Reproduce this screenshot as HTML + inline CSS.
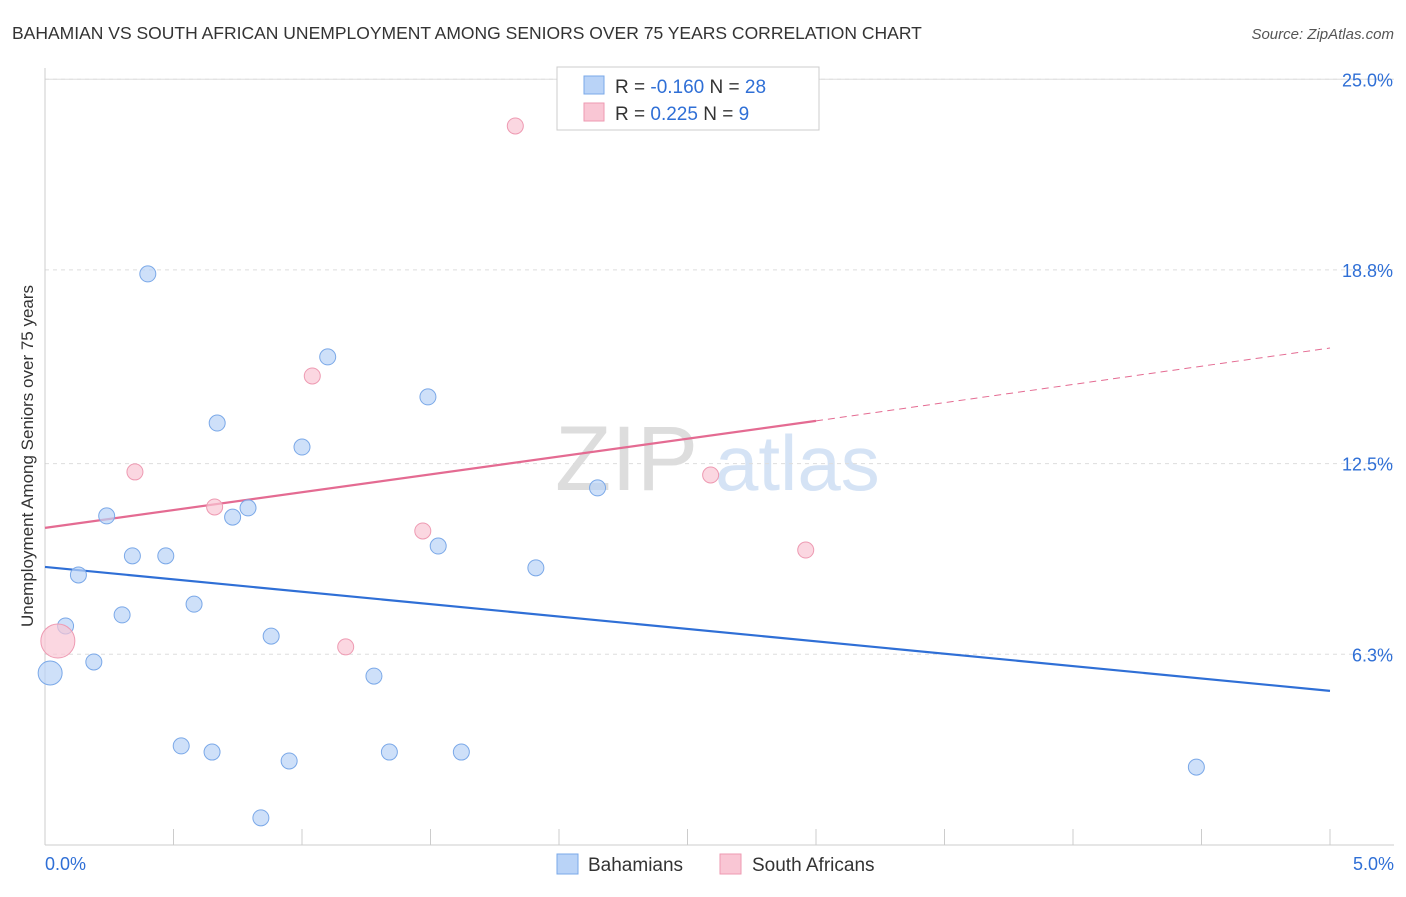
<!DOCTYPE html>
<html><head><meta charset="utf-8"><style>
body{margin:0;background:#fff;font-family:"Liberation Sans",sans-serif;}
svg text{font-family:"Liberation Sans",sans-serif;}
</style></head><body>
<svg id="chart" width="1406" height="892" viewBox="0 0 1406 892">
<text x="12" y="39" font-size="17.5" fill="#333">BAHAMIAN VS SOUTH AFRICAN UNEMPLOYMENT AMONG SENIORS OVER 75 YEARS CORRELATION CHART</text>
<text x="1394" y="39" font-size="15" fill="#555" font-style="italic" text-anchor="end">Source: ZipAtlas.com</text>
<text transform="translate(33,456) rotate(-90)" font-size="17" fill="#333" text-anchor="middle">Unemployment Among Seniors over 75 years</text>
<g>
<text x="555" y="490" font-size="92" fill="#ddd" font-family="Liberation Serif">ZIP</text>
<text x="715" y="490" font-size="78" fill="#d5e3f5">atlas</text>
</g>
<g id="grid"></g><g id="axes"></g><g id="lines"></g><g id="pts"></g>
<g>
<rect x="557" y="67" width="262" height="63" fill="#fff" stroke="#ccc"/>
<rect x="584" y="76" width="20" height="18" fill="#b9d3f7" stroke="#7aa8e8"/>
<rect x="584" y="103" width="20" height="18" fill="#f9c6d4" stroke="#ee9ab2"/>
<text x="615" y="93" font-size="19" fill="#333">R = <tspan fill="#2f6fd6">-0.160</tspan>   N = <tspan fill="#2f6fd6">28</tspan></text>
<text x="615" y="120" font-size="19" fill="#333">R =  <tspan fill="#2f6fd6"> 0.225</tspan>   N =  <tspan fill="#2f6fd6">  9</tspan></text>
</g>
<g>
<rect x="557" y="854" width="21" height="20" fill="#b9d3f7" stroke="#7aa8e8"/>
<text x="588" y="871" font-size="19" fill="#333">Bahamians</text>
<rect x="720" y="854" width="21" height="20" fill="#f9c6d4" stroke="#ee9ab2"/>
<text x="752" y="871" font-size="19" fill="#333">South Africans</text>
</g>
</svg>
<script>
const yTicks=[6.3,12.5,18.8,25.0];
const yTickLabels=["6.3%","12.5%","18.8%","25.0%"];
const xTickLabels=["0.0%","5.0%"];
const bahX=[0.02,0.08,0.13,0.19,0.24,0.30,0.34,0.40,0.47,0.53,0.58,0.65,0.67,0.73,0.79,0.84,0.88,0.95,1.00,1.10,1.28,1.34,1.49,1.53,1.62,1.91,2.15,4.48];
const bahY=[5.69,7.22,8.88,6.05,10.80,7.58,9.50,18.67,9.50,3.32,7.93,3.12,13.82,10.76,11.06,0.98,6.89,2.83,13.04,15.97,5.59,3.12,14.67,9.82,3.12,9.11,11.71,2.63];
const saX=[0.05,0.35,0.66,1.04,1.17,1.47,1.83,2.59,2.96];
const saY=[6.73,12.23,11.09,15.35,6.54,10.31,23.48,12.13,9.69];
const bahTrend=[9.14,5.11];
const saTrend=[10.41,13.89,16.26];
const NS="http://www.w3.org/2000/svg";
const X=v=>45+v/5*1285, Y=v=>848-v*30.75;
function mk(p,t,a){const e=document.createElementNS(NS,t);for(const k in a)e.setAttribute(k,a[k]);p.appendChild(e);return e;}
const grid=document.getElementById('grid'),axes=document.getElementById('axes'),lines=document.getElementById('lines'),pts=document.getElementById('pts');
yTicks.forEach((t,i)=>{
 const l=mk(grid,'line',{x1:45,x2:1394,y1:Y(t),y2:Y(t),stroke:'#ddd','stroke-dasharray':'4,4'});
 
 
 const tx=mk(axes,'text',{x:1393,y:Y(t)+7,'font-size':18,fill:'#2f6fd6','text-anchor':'end'});
 tx.textContent=yTickLabels[i];
 
 
});
const tg=mk(grid,'line',{x1:45,x2:1394,y1:Y(25)+0,y2:Y(25),stroke:'#ddd'});
mk(axes,'line',{x1:45,x2:45,y1:68,y2:845,stroke:'#ccc'});
mk(axes,'line',{x1:45,x2:1394,y1:845,y2:845,stroke:'#ccc'});
for(let i=1;i<=10;i++){const t=mk(axes,'line',{x1:X(i*0.5),x2:X(i*0.5),y1:829,y2:845,stroke:'#ccc'});
 
 }
const xl0=mk(axes,'text',{x:45,y:870,'font-size':18,fill:'#2f6fd6'});xl0.textContent=xTickLabels[0];


const xl1=mk(axes,'text',{x:1394,y:870,'font-size':18,fill:'#2f6fd6','text-anchor':'end'});xl1.textContent=xTickLabels[1];


const bl=mk(lines,'line',{x1:X(0),y1:Y(bahTrend[0]),x2:X(5),y2:Y(bahTrend[1]),stroke:'#2f6fd6','stroke-width':2.2});


const sl=mk(lines,'line',{x1:X(0),y1:Y(saTrend[0]),x2:X(3),y2:Y(saTrend[1]),stroke:'#e46b92','stroke-width':2.2});


const sd=mk(lines,'line',{x1:X(3),y1:Y(saTrend[1]),x2:X(5),y2:Y(saTrend[2]),stroke:'#e46b92','stroke-width':1,'stroke-dasharray':'7,5'});


bahX.forEach((x,i)=>{const c=mk(pts,'circle',{cx:X(x),cy:Y(bahY[i]),r:i==0?12:8,fill:'rgba(185,211,247,0.7)',stroke:'#7aa8e8','stroke-width':1});
 
 });
saX.forEach((x,i)=>{const c=mk(pts,'circle',{cx:X(x),cy:Y(saY[i]),r:i==0?17:8,fill:'rgba(249,198,212,0.7)',stroke:'#ee9ab2','stroke-width':1});
 
 });
</script>
</body></html>
